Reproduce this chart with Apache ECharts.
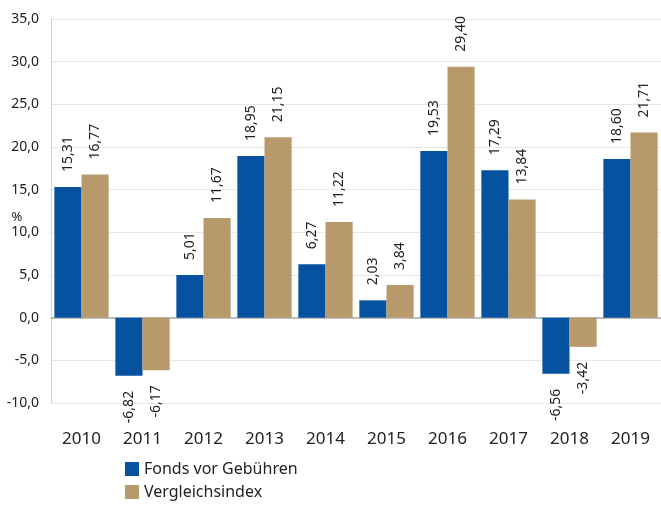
<!DOCTYPE html>
<html>
<head>
<meta charset="utf-8">
<script src="https://cdn.jsdelivr.net/npm/echarts@6/dist/echarts.min.js"></script>
<style>
html, body { margin: 0; padding: 0; background: #fff; }
#chart { width: 661px; height: 505px; }
</style>
</head>
<body>
<div id="chart"></div>
<script>
var years = ['2010', '2011', '2012', '2013', '2014', '2015', '2016', '2017', '2018', '2019'];
var fondsValues = [15.31, -6.82, 5.01, 18.95, 6.27, 2.03, 19.53, 17.29, -6.56, 18.60];
var indexValues = [16.77, -6.17, 11.67, 21.15, 11.22, 3.84, 29.40, 13.84, -3.42, 21.71];
var seriesNames = ['Fonds vor Gebühren', 'Vergleichsindex'];

var fontFamily = 'Noto Sans';

// Werte mit Komma, Label je nach Vorzeichen
var toItems = function(values){
	return values.map(function(v){
		return {
			value: v,
			label: { align: v < 0 ? 'right' : 'left' }
		};
	});
};

var labelStyle = {
	show: true,
	position: 'outside',
	rotate: 90,
	distance: 15,
	verticalAlign: 'middle',
	fontSize: 14,
	fontFamily: fontFamily,
	color: '#222',
	formatter: function(p){
		return p.value.toFixed(2).replace('.', ',');
	}
};

var chart = echarts.init(document.getElementById('chart'));
chart.setOption({
	animation: false,
	grid: { left: 51, right: 0, top: 19, bottom: 102, containLabel: false, outerBoundsMode: 'none' },
	legend: {
		orient: 'vertical',
		left: 120,
		top: 456,
		height: 60,
		itemWidth: 14,
		itemHeight: 14,
		itemGap: 7,
		icon: 'rect',
		textStyle: { fontSize: 16, fontFamily: fontFamily, color: '#222' },
		data: seriesNames
	},
	xAxis: {
		type: 'category',
		data: years,
		axisTick: { show: false },
		axisLine: { onZero: true, lineStyle: { color: '#aaa', width: 1.5 } },
		axisLabel: {
			fontSize: 17,
			fontFamily: fontFamily,
			color: '#222',
			margin: 28,
			interval: 0
		}
	},
	yAxis: {
		type: 'value',
		min: -10,
		max: 35,
		interval: 5,
		name: '%',
		nameLocation: 'middle',
		nameRotate: 0,
		nameGap: 34,
		nameMoveOverlap: false,
		nameTextStyle: { fontSize: 13, fontFamily: fontFamily, color: '#222', align: 'center', verticalAlign: 'top' },
		axisLine: { show: true, lineStyle: { color: '#d0d0d0' } },
		axisTick: { show: false },
		splitLine: { lineStyle: { color: '#e8e8e8' } },
		axisLabel: {
			fontSize: 14,
			fontFamily: fontFamily,
			color: '#222',
			margin: 12,
			formatter: function(v){
				return v.toFixed(1).replace('.', ',');
			}
		}
	},
	series: [
		{
			name: seriesNames[0],
			type: 'bar',
			data: toItems(fondsValues),
			itemStyle: { color: '#0652a0' },
			barGap: '0%',
			barCategoryGap: '11%',
			label: labelStyle
		},
		{
			name: seriesNames[1],
			type: 'bar',
			data: toItems(indexValues),
			itemStyle: { color: '#b8996b' },
			barGap: '0%',
			barCategoryGap: '11%',
			label: labelStyle
		}
	]
});
</script>
</body>
</html>
